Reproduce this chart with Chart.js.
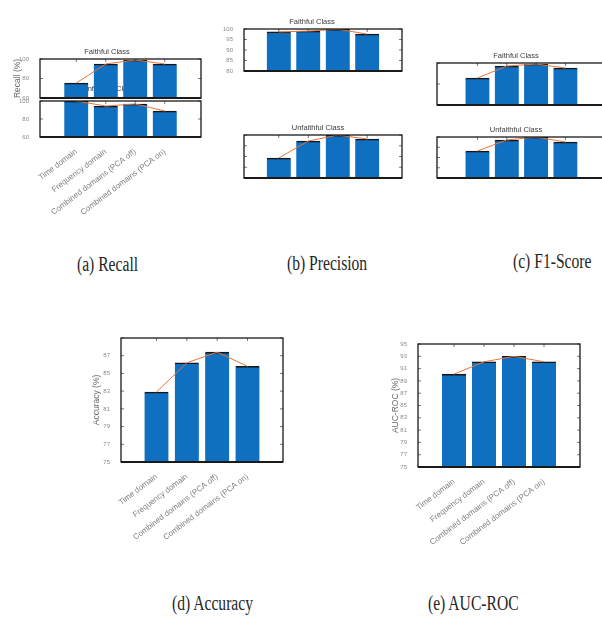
<!DOCTYPE html>
<html>
<head>
<meta charset="utf-8">
<script src="https://cdn.jsdelivr.net/npm/chart.js@4.4.1/dist/chart.umd.min.js"></script>
<style>
  html, body { margin: 0; padding: 0; background: #fff; width: 602px; height: 623px; overflow: hidden; }
  canvas { position: absolute; }
  .cap {
    position: absolute; white-space: nowrap; color: #262626;
    font-family: "Liberation Serif", "Times New Roman", serif; font-size: 20px; line-height: 22px;
    transform: scaleX(0.78); transform-origin: left top;
  }
</style>
</head>
<body>
<canvas id="recallBottom" style="z-index:1"></canvas>
<canvas id="recallTop" style="z-index:2"></canvas>
<canvas id="precTop"></canvas>
<canvas id="precBottom"></canvas>
<canvas id="f1Top"></canvas>
<canvas id="f1Bottom"></canvas>
<canvas id="acc"></canvas>
<canvas id="auc"></canvas>

<div class="cap" style="left:77px;top:253px">(a) Recall</div>
<div class="cap" style="left:287px;top:252px">(b) Precision</div>
<div class="cap" style="left:513px;top:250px">(c) F1-Score</div>
<div class="cap" style="left:172px;top:592px">(d) Accuracy</div>
<div class="cap" style="left:428px;top:592px">(e) AUC-ROC</div>

<script>
// categorii (aceleasi pentru toate graficele)
const categories = ["Time domain", "Frequency domain", "Combined domains (PCA off)", "Combined domains (PCA on)"];

// valori (%)
const recallFaithful = [75.4, 94.9, 99.0, 94.9];
const recallUnfaithful = [100, 94.4, 96.7, 88.9];
const precisionFaithful = [98.6, 99.0, 99.9, 97.6];
const precisionUnfaithful = [78.6, 94.4, 99.9, 96.3];
const f1Faithful = [85.7, 97.1, 99.0, 95.2];
const f1Unfaithful = [86.3, 97.1, 99.9, 95.1];
const accuracyValues = [82.9, 86.2, 87.4, 85.8];
const aucValues = [90.1, 92.1, 93.0, 92.1];

const BLUE = "#0f6fc0";
const ORANGE = "#e8743b";
const SANS = "'Liberation Sans', Arial, sans-serif";

// rama tip MATLAB + tick-uri spre interior
const framePlugin = {
    id: "frame",
    afterDatasetsDraw(chart) {
        const { ctx, chartArea: a, scales } = chart;
        ctx.save();
        ctx.strokeStyle = "#555";
        ctx.lineWidth = 0.8;
        scales.y.ticks.forEach(t => {
            const y = scales.y.getPixelForValue(t.value);
            ctx.beginPath();
            ctx.moveTo(a.left, y); ctx.lineTo(a.left + 3, y);
            ctx.moveTo(a.right, y); ctx.lineTo(a.right - 3, y);
            ctx.stroke();
        });
        categories.forEach((c, i) => {
            const x = scales.x.getPixelForValue(i + 1);
            ctx.beginPath();
            ctx.moveTo(x, a.top); ctx.lineTo(x, a.top + 3);
            ctx.stroke();
        });
        ctx.strokeStyle = "#1a1a1a";
        ctx.lineWidth = 1.3;
        ctx.strokeRect(a.left, a.top, a.right - a.left, a.bottom - a.top);
        ctx.lineWidth = 2;
        ctx.beginPath();
        ctx.moveTo(a.left, a.bottom); ctx.lineTo(a.right, a.bottom);
        ctx.stroke();
        ctx.restore();
    }
};

function zeroPad(s) {
    s.paddingTop = 0; s.paddingBottom = 0; s.paddingLeft = 0; s.paddingRight = 0;
}

function makePanel(id, values, frame, pad, opt) {
    const canvas = document.getElementById(id);
    canvas.width = pad.l + frame.w + pad.r;
    canvas.height = pad.t + frame.h + pad.b;
    canvas.style.left = (frame.x - pad.l) + "px";
    canvas.style.top = (frame.y - pad.t) + "px";

    const titleSize = 7.5;
    const titleH = opt.title ? titleSize * 1.2 + opt.titleGap : 0;
    const pts = values.map((v, i) => ({ x: i + 1, y: v }));

    return new Chart(canvas, {
        type: "bar",
        data: {
            datasets: [
                {
                    type: "line", data: pts, borderColor: ORANGE, borderWidth: 1,
                    pointRadius: 0, tension: 0, order: 0
                },
                {
                    type: "bar", data: pts, backgroundColor: BLUE,
                    borderColor: "#161616", borderWidth: { top: 1.6, left: 0, right: 0, bottom: 0 },
                    borderSkipped: "bottom", barThickness: 24, order: 1
                }
            ]
        },
        options: {
            responsive: false,
            animation: false,
            devicePixelRatio: 1,
            layout: { padding: { top: pad.t - titleH, right: pad.r, left: 0, bottom: 0 } },
            plugins: {
                legend: { display: false },
                tooltip: { enabled: false },
                title: {
                    display: !!opt.title, text: opt.title || "", color: "#3b3b3b",
                    font: { family: SANS, size: titleSize, weight: "normal" },
                    padding: { top: 0, bottom: opt.titleGap || 0 }
                }
            },
            scales: {
                x: {
                    type: "linear", min: opt.xMin, max: opt.xMax, offset: false,
                    grid: { display: false, offset: false }, border: { display: false },
                    ticks: {
                        display: !!opt.showX, stepSize: 1, includeBounds: false, autoSkip: false,
                        minRotation: 37, maxRotation: 37, padding: 2, color: "#808080",
                        font: { family: SANS, size: 8 },
                        callback: v => (Number.isInteger(v) && v >= 1 && v <= 4) ? categories[v - 1] : ""
                    },
                    afterFit: s => { s.height = pad.b; zeroPad(s); }
                },
                y: {
                    min: opt.yMin, max: opt.yMax,
                    grid: { display: false }, border: { display: false },
                    ticks: {
                        display: opt.showY !== false, stepSize: opt.yStep, padding: 3, color: "#8a8a8a",
                        font: { family: SANS, size: 6 },
                        callback: v => (opt.hideTop && v === opt.yMax) ? "" : v
                    },
                    title: {
                        display: !!opt.yTitle, text: opt.yTitle || "", color: "#6a6a6a",
                        font: { family: SANS, size: 8.5 }, padding: { top: 0, bottom: 0 }
                    },
                    afterFit: s => { s.width = pad.l; zeroPad(s); }
                }
            }
        },
        plugins: [framePlugin]
    });
}

// (a) Recall: doua axe suprapuse
makePanel("recallBottom", recallUnfaithful,
    { x: 40, y: 101, w: 161, h: 36 }, { l: 24, t: 22, r: 2, b: 100 },
    { title: "Unfaithful Class", titleGap: 8, xMin: -0.23, xMax: 5.23, yMin: 60, yMax: 100, yStep: 20, showX: true });
makePanel("recallTop", recallFaithful,
    { x: 40, y: 59, w: 161, h: 39 }, { l: 27, t: 16, r: 2, b: 2 },
    { title: "Faithful Class", titleGap: 3, xMin: -0.23, xMax: 5.23, yMin: 60, yMax: 100, yStep: 20, yTitle: "Recall (%)" });

// (b) Precision
makePanel("precTop", precisionFaithful,
    { x: 244, y: 29, w: 158, h: 42 }, { l: 22, t: 16, r: 2, b: 2 },
    { title: "Faithful Class", titleGap: 3, xMin: -0.18, xMax: 5.18, yMin: 80, yMax: 100, yStep: 5 });
makePanel("precBottom", precisionUnfaithful,
    { x: 244, y: 135, w: 158, h: 43 }, { l: 10, t: 16, r: 2, b: 2 },
    { title: "Unfaithful Class", titleGap: 3, xMin: -0.18, xMax: 5.18, yMin: 60, yMax: 100, yStep: 10, showY: false });

// (c) F1-Score
makePanel("f1Top", f1Faithful,
    { x: 437, y: 63, w: 168, h: 42 }, { l: 10, t: 16, r: 2, b: 2 },
    { title: "Faithful Class", titleGap: 3, xMin: -0.38, xMax: 5.35, yMin: 60, yMax: 100, yStep: 20, showY: false });
makePanel("f1Bottom", f1Unfaithful,
    { x: 437, y: 137, w: 168, h: 41 }, { l: 10, t: 16, r: 2, b: 2 },
    { title: "Unfaithful Class", titleGap: 3, xMin: -0.38, xMax: 5.35, yMin: 60, yMax: 100, yStep: 10, showY: false });

// (d) Accuracy
makePanel("acc", accuracyValues,
    { x: 121, y: 338, w: 162, h: 124 }, { l: 29, t: 6, r: 2, b: 95 },
    { xMin: -0.17, xMax: 5.17, yMin: 75, yMax: 89, yStep: 2, hideTop: true, showX: true, yTitle: "Accuracy (%)" });

// (e) AUC-ROC
makePanel("auc", aucValues,
    { x: 418, y: 344, w: 162, h: 123 }, { l: 27, t: 6, r: 2, b: 95 },
    { xMin: -0.2, xMax: 5.2, yMin: 75, yMax: 95, yStep: 2, showX: true, yTitle: "AUC-ROC (%)" });
</script>
</body>
</html>
